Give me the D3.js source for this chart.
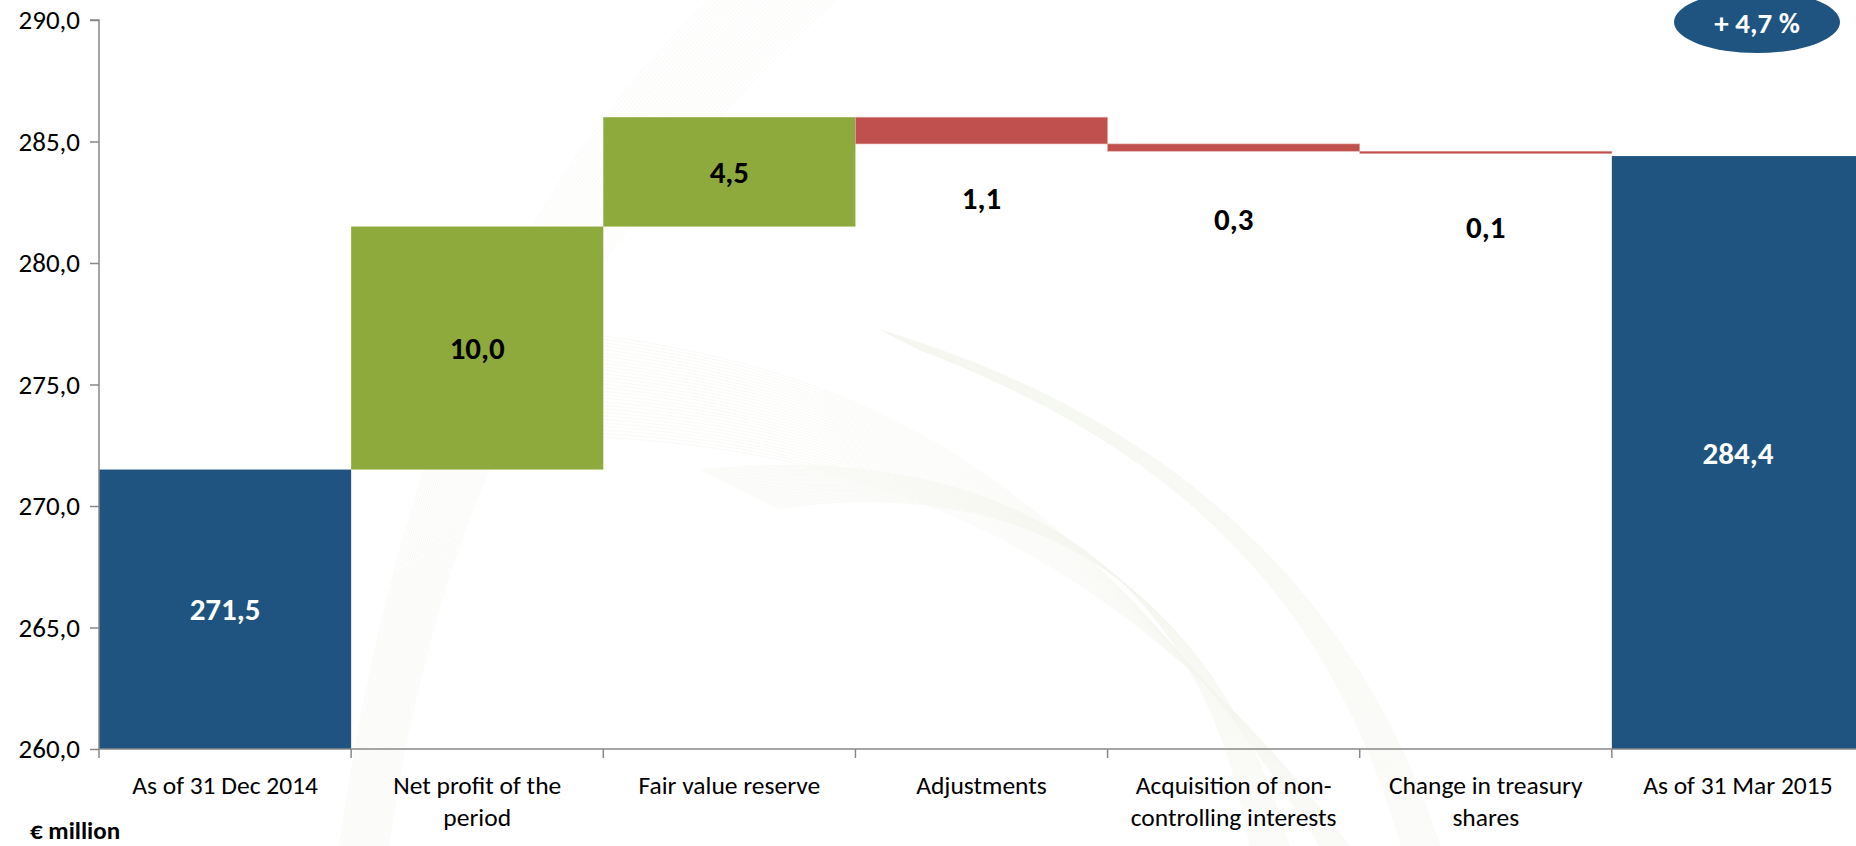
<!DOCTYPE html>
<html><head><meta charset="utf-8">
<script src="https://cdn.jsdelivr.net/npm/d3@7"></script>
<style>
html,body{margin:0;padding:0;background:#fff;overflow:hidden;}
svg{display:block;font-family:Carlito,Calibri,Lato,"Open Sans",sans-serif;}
</style></head>
<body><svg id="c" width="1856" height="846"></svg>
<script>
const categories = ["As of 31 Dec 2014","Net profit of the period","Fair value reserve","Adjustments","Acquisition of non-controlling interests","Change in treasury shares","As of 31 Mar 2015"];
const tickLines = [["As of 31 Dec 2014"],["Net profit of the","period"],["Fair value reserve"],["Adjustments"],["Acquisition of non-","controlling interests"],["Change in treasury","shares"],["As of 31 Mar 2015"]];
const kinds = ["total","up","up","down","down","down","total"];
const values = [271.5, 10.0, 4.5, -1.1, -0.3, -0.1, 284.4];
const valueLabels = ["271,5","10,0","4,5","1,1","0,3","0,1","284,4"];
const yTicks = [260,265,270,275,280,285,290];
const badge = "+ 4,7 %";
const unitLabel = "€ million";

const svg = d3.select("#c");
const pL = 99, pT = 20, pB = 749, pR = 1864;
const x = d3.scaleBand().domain(categories).range([pL, pR]).padding(0);
const y = d3.scaleLinear().domain([260,290]).range([pB, pT]);
const colors = {total:"#1F5480", up:"#8EAA3D", down:"#C0504D"};

let run = 0;
const bars = categories.map((c,i)=>{
  let y0,y1;
  if(kinds[i]==="total"){ y0 = 260; y1 = values[i]; run = values[i]; }
  else { y0 = run; y1 = run + values[i]; run = y1; }
  return {c, kind:kinds[i], lo:Math.min(y0,y1), hi:Math.max(y0,y1), label:valueLabels[i]};
});

// faint background watermark (guilloche-like curves)
const wm = svg.append("g").attr("opacity",0.22).attr("fill","none").attr("stroke","#cfd6b4").attr("stroke-width",0.5);
for(let k=0;k<30;k++){
  const t = k/30;
  wm.append("path").attr("d", `M ${340+t*50} 846 C ${380+t*60} ${560-t*60}, ${470+t*90} ${220+t*40}, ${720+t*120} ${-10+t*10}`);
  wm.append("path").attr("d", `M ${560+t*30} ${330+t*110} C ${800} ${360+t*90}, ${1050+t*40} ${420+t*80}, ${1320+t*30} 846`);
  wm.append("path").attr("d", `M ${700+t*80} ${470+t*40} C ${1000+t*40} ${440+t*30}, ${1200+t*20} ${560+t*40}, ${1250+t*40} 846`);
  wm.append("path").attr("d", `M ${880+t*40} ${330+t*20} C ${1180} ${420+t*30}, ${1360-t*30} ${600}, ${1440-t*40} 846`);
}

svg.append("g").selectAll("rect").data(bars).join("rect")
  .attr("x", d=>x(d.c)).attr("width", x.bandwidth())
  .attr("y", d=>y(d.hi)).attr("height", d=>Math.max(1.5, y(d.lo)-y(d.hi)))
  .attr("fill", d=>colors[d.kind])
  .attr("stroke", d=>d.kind==="down" ? "#E3A5A3" : "none")
  .attr("stroke-width", d=>d.kind==="down" ? 0.6 : 0);

const downLabelAt = [null,null,null,282.7,281.8,281.5,null];
svg.append("g").selectAll("text").data(bars).join("text")
  .attr("x", d=>x(d.c)+x.bandwidth()/2)
  .attr("y", (d,i)=> d.kind==="down" ? y(downLabelAt[i]) : y((d.lo+d.hi)/2))
  .attr("dy","0.36em")
  .attr("text-anchor","middle")
  .attr("font-weight","bold").attr("font-size", 31)
  .attr("fill", d=>d.kind==="total" ? "#fff" : "#000")
  .text(d=>d.label);

const yAxis = svg.append("g").attr("transform",`translate(${pL},0)`)
  .call(d3.axisLeft(y).tickValues(yTicks).tickSize(9).tickPadding(10).tickFormat(d=>d3.format(".1f")(d).replace(".",",")));
yAxis.select(".domain").attr("stroke","#888").attr("stroke-width",1.5).attr("d",`M-9,${pT}H0V${pB}`);
yAxis.selectAll(".tick line").attr("stroke","#888").attr("stroke-width",1.5);
yAxis.selectAll(".tick text").attr("font-size",27).attr("fill","#000").attr("font-family","Carlito,Calibri,Lato,sans-serif");

const xg = svg.append("g");
xg.append("line").attr("x1",pL).attr("x2",pR).attr("y1",pB).attr("y2",pB).attr("stroke","#888").attr("stroke-width",1.5);
const bounds = categories.map(c=>x(c)).concat([pR]);
xg.selectAll("line.t").data(bounds).join("line").attr("class","t")
  .attr("x1",d=>d).attr("x2",d=>d).attr("y1",pB).attr("y2",pB+9)
  .attr("stroke","#888").attr("stroke-width",1.5);
categories.forEach((c,i)=>{
  const t = xg.append("text").attr("x", x(c)+x.bandwidth()/2).attr("y", 794)
    .attr("text-anchor","middle").attr("font-size",25.5).attr("fill","#000");
  tickLines[i].forEach((ln,j)=>{
    t.append("tspan").attr("x", x(c)+x.bandwidth()/2).attr("dy", j===0?0:32).text(ln);
  });
});

svg.append("text").attr("x",30).attr("y",839).attr("font-weight","bold").attr("font-size",25).attr("fill","#000").text(unitLabel);

svg.append("ellipse").attr("cx",1757).attr("cy",22).attr("rx",83).attr("ry",31).attr("fill","#1F5480");
svg.append("text").attr("x",1757).attr("y",23).attr("dy","0.36em").attr("text-anchor","middle")
  .attr("font-weight","bold").attr("font-size",29).attr("fill","#fff").text(badge);
</script></body></html>
